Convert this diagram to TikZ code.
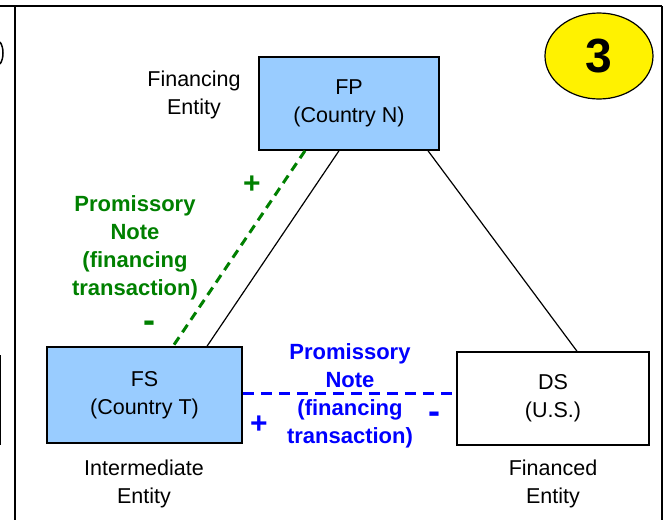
\documentclass[tikz,border=0pt]{standalone}
\usepackage{fontspec}
\setmainfont{Liberation Sans}
\usetikzlibrary{shapes.geometric}
\definecolor{boxblue}{HTML}{99CCFF}
\definecolor{notegreen}{HTML}{008000}
\definecolor{noteblue}{HTML}{0000FF}

\begin{document}
\begin{tikzpicture}[x=1pt,y=-1pt,
	font=\fontsize{21.5}{28}\selectfont,
	entity/.style={draw,line width=1.5pt,inner sep=0pt,align=center},
	caption/.style={anchor=base,inner sep=0pt,align=center},
	notetext/.style={anchor=base,inner sep=0pt,align=center,font=\bfseries\fontsize{22}{28}\selectfont},
	plussign/.style={inner sep=0pt,font=\bfseries\fontsize{30}{30}\selectfont},
	minussign/.style={inner sep=0pt,font=\bfseries\fontsize{36}{36}\selectfont}]
	\useasboundingbox (0,0) rectangle (665,520);
	% panel frame
	\draw[line width=2pt] (0,6) -- (662,6);
	\draw[line width=2pt] (15,6) -- (15,520);
	\draw[line width=2pt] (662,6) -- (662,520);
	% edge of the panel to the left
	\draw[line width=1.5pt] (0,42) .. controls (4,47) and (4,59) .. (0,64);
	\draw[line width=1.5pt] (0.5,355) -- (0.5,445);

	\node[draw,ellipse,fill=yellow,line width=1.2pt,minimum width=108pt,minimum height=86pt,
		font=\bfseries\fontsize{48}{50}\selectfont] (step) at (599,56) {3};

	\node[entity,fill=boxblue,minimum width=180pt,minimum height=93pt] (fp) at (349,103.5) {FP\\(Country N)};
	\node[entity,fill=boxblue,minimum width=195pt,minimum height=96pt] (fs) at (144.5,395) {FS\\(Country T)};
	\node[entity,minimum width=192pt,minimum height=93pt] (ds) at (553,398.5) {DS\\(U.S.)};

	\node[caption] (fpname) at (194,114) {Financing\\Entity};
	\node[caption] (fsname) at (144,503) {Intermediate\\Entity};
	\node[caption] (dsname) at (553,503) {Financed\\Entity};

	\draw[line width=1.2pt] ([xshift=-10pt]fp.south) -- ([xshift=62.5pt]fs.north);
	\draw[line width=1.2pt] ([xshift=79pt]fp.south) -- ([xshift=24pt]ds.north);

	% financing notes
	\draw[notegreen,line width=3pt,dash pattern=on 9pt off 6pt] ([xshift=-44pt]fp.south) -- ([xshift=28.5pt]fs.north);
	\node[notetext,notegreen] (gnote) at (135,295) {Promissory\\Note\\(financing\\transaction)};
	\node[plussign,notegreen] (gplus) at (252,185) {+};
	\node[minussign,notegreen] (gminus) at (149,327) {-};

	\draw[noteblue,line width=3pt,dash pattern=on 11pt off 7pt] ([yshift=2pt]fs.east) -- ([yshift=2pt]fs.east -| ds.west);
	\node[notetext,noteblue] (bnote) at (350,443) {Promissory\\Note\\(financing\\transaction)};
	\node[plussign,noteblue] (bplus) at (259,425) {+};
	\node[minussign,noteblue] (bminus) at (434,418) {-};
\end{tikzpicture}
\end{document}
